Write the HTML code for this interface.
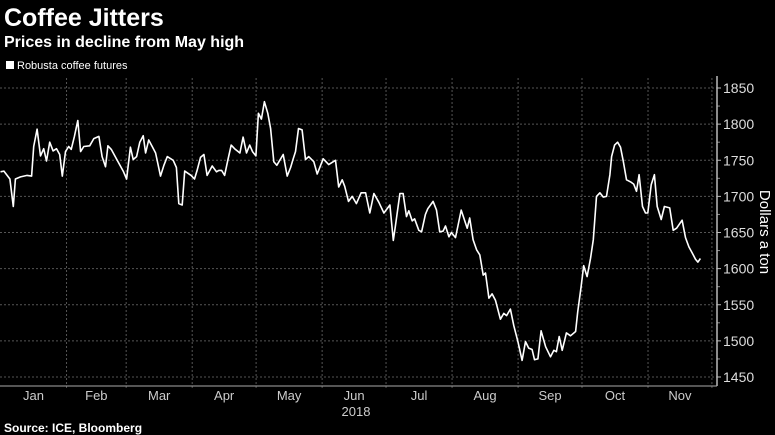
<!DOCTYPE html>
<html><head><meta charset="utf-8"><style>
body{margin:0;background:#000;width:775px;height:435px;overflow:hidden;font-family:"Liberation Sans",sans-serif}
svg{display:block}
</style></head><body>
<svg width="775" height="435">
<text x="4" y="26" fill="#fff" font-size="25" font-weight="bold">Coffee Jitters</text>
<text x="4" y="47" fill="#fff" font-size="16" font-weight="bold">Prices in decline from May high</text>
<rect x="6" y="61" width="8" height="8" fill="#fff"/>
<text x="17" y="69" fill="#fff" font-size="11">Robusta coffee futures</text>
<g id="grid"></g>
<g id="axes"></g>
<path id="line" fill="none" stroke="#fff" stroke-width="1.6" stroke-linejoin="round"/>
<text transform="translate(760,232) rotate(90)" text-anchor="middle" fill="#fff" font-size="15">Dollars a ton</text>
<text x="356" y="416" text-anchor="middle" fill="#ccc" font-size="13">2018</text>
<text x="4" y="432" fill="#fff" font-size="12" font-weight="bold">Source: ICE, Bloomberg</text>
</svg>
<script>
const days=[0,1.6,4.4,6,7,9.4,12.5,14.6,15.6,17.2,18.8,20.3,21.6,23.1,24.7,26.3,27.8,29,30.5,32,33.2,34.7,36.3,37.6,39.1,41.9,43.8,46.2,47.7,49.3,50.4,52,54.8,57.6,59.2,61,62.3,63.9,65.4,67,68.1,69.6,71.2,72.8,75.1,76.7,78.3,81.1,82.6,83.7,85.3,86.5,89.5,91.1,92.3,93.9,95.5,97,99.4,101.4,102.5,103.8,105.2,106.7,108.3,109.9,112.4,113.9,115.5,117,118.3,119.9,121.1,122.5,123.9,125.5,126.8,128.3,129.7,132.7,134.6,136.2,137.4,138.5,139.9,141.6,143.2,144.7,147.1,148.7,151.5,154.1,157.3,158.8,160.4,161.6,163.4,165.1,167.1,169.3,171.4,173.4,175.3,177.6,180,182.8,184.4,185.4,187.5,189,190.6,191.7,193.3,194.4,196.4,197.7,199.5,200.6,203.1,204.7,206.2,207.8,208.9,210.5,211.7,213.6,216.3,219.1,220.3,221.9,223.5,225,226.6,227.7,229.3,230.8,232.4,234.7,236.3,237.6,239.4,241,242.9,244.9,246.5,248,249.6,250.7,252.3,253.8,255.9,258.2,259.8,261,262.3,263.7,265.7,267.6,270,271,272.6,273.8,275.4,277,278.3,279.8,281.4,283,284.5,286.1,286.9,288.3,289.7,291.1,292.3,293.9,295.8,297.3,298.6,299.8,301.4,302.8,303.9,305.5,307,308.3,310.2,311.7,314.2,315.8,317.4,320,321.6,323.2,324.7,326.3,327.4,328.6];
const prices=[1734,1735,1724,1686,1724,1727,1729,1728,1769,1793,1756,1766,1749,1775,1763,1766,1758,1728,1762,1769,1765,1783,1805,1762,1769,1770,1780,1783,1755,1741,1770,1765,1750,1735,1724,1768,1751,1755,1775,1784,1760,1778,1769,1760,1728,1743,1755,1750,1740,1690,1688,1735,1729,1724,1736,1754,1758,1729,1742,1734,1736,1736,1729,1750,1771,1766,1760,1782,1760,1771,1762,1756,1815,1807,1831,1815,1794,1748,1743,1758,1728,1740,1752,1762,1794,1792,1751,1755,1748,1731,1752,1744,1750,1713,1723,1714,1693,1700,1690,1705,1705,1677,1704,1692,1677,1688,1639,1659,1704,1704,1672,1680,1666,1669,1653,1651,1675,1683,1693,1681,1651,1652,1659,1644,1650,1643,1681,1656,1670,1640,1626,1619,1591,1594,1559,1565,1556,1530,1538,1535,1544,1521,1499,1473,1499,1490,1488,1474,1475,1514,1492,1478,1487,1485,1506,1487,1511,1507,1513,1540,1575,1604,1589,1614,1640,1700,1705,1699,1700,1730,1755,1771,1775,1768,1750,1723,1720,1717,1707,1730,1686,1677,1677,1716,1730,1686,1668,1686,1684,1653,1656,1667,1643,1630,1622,1613,1609,1614];
const yTicks=[1450,1500,1550,1600,1650,1700,1750,1800,1850];
const months=["Jan","Feb","Mar","Apr","May","Jun","Jul","Aug","Sep","Oct","Nov"];
const monthStarts=[0,31,59,90,120,151,181,212,243,273,304,334];
const NS="http://www.w3.org/2000/svg";
const X=d=>0.5+d*2.13;
const Y=v=>377-(v-1450)*0.7225;
const grid=document.getElementById('grid'),axes=document.getElementById('axes');
function mk(tag,attrs,parent){const e=document.createElementNS(NS,tag);for(const k in attrs)e.setAttribute(k,attrs[k]);parent.appendChild(e);return e;}
yTicks.forEach(v=>{
  const g=mk('line',{x1:0,x2:717,y1:Y(v),y2:Y(v),stroke:'#555','stroke-dasharray':'2,2'},grid);
  
  
  const t=mk('line',{x1:717,x2:721,y1:Y(v),y2:Y(v),stroke:'#bbb'},axes);
  
  
  const l=mk('text',{x:723,y:Y(v)+5,fill:'#ddd','font-size':14},axes);
  l.textContent=v;
  
  
});
for(let v=1475;v<1850;v+=50){const t=mk('line',{x1:717,x2:720,y1:Y(v),y2:Y(v),stroke:'#888'},axes);
  
  }
monthStarts.forEach((d,i)=>{
  if(i>0){const g=mk('line',{x1:X(d),x2:X(d),y1:78,y2:390,stroke:'#555','stroke-dasharray':'2,2'},grid);
  
  }
  if(i<months.length){
    const l=mk('text',{x:X((d+monthStarts[i+1])/2),y:400,fill:'#ccc','font-size':13,'text-anchor':'middle'},axes);
    l.textContent=months[i];
    
    
  }
});
const ya=mk('line',{x1:717,x2:717,y1:76,y2:386,stroke:'#bbb','stroke-width':1.5},axes);


const xa=mk('line',{x1:0,x2:717,y1:386,y2:386,stroke:'#aaa'},axes);


document.getElementById('line').setAttribute('d',days.map((d,i)=>(i?'L':'M')+X(d).toFixed(1)+','+Y(prices[i]).toFixed(1)).join(''));
</script>
</body></html>
